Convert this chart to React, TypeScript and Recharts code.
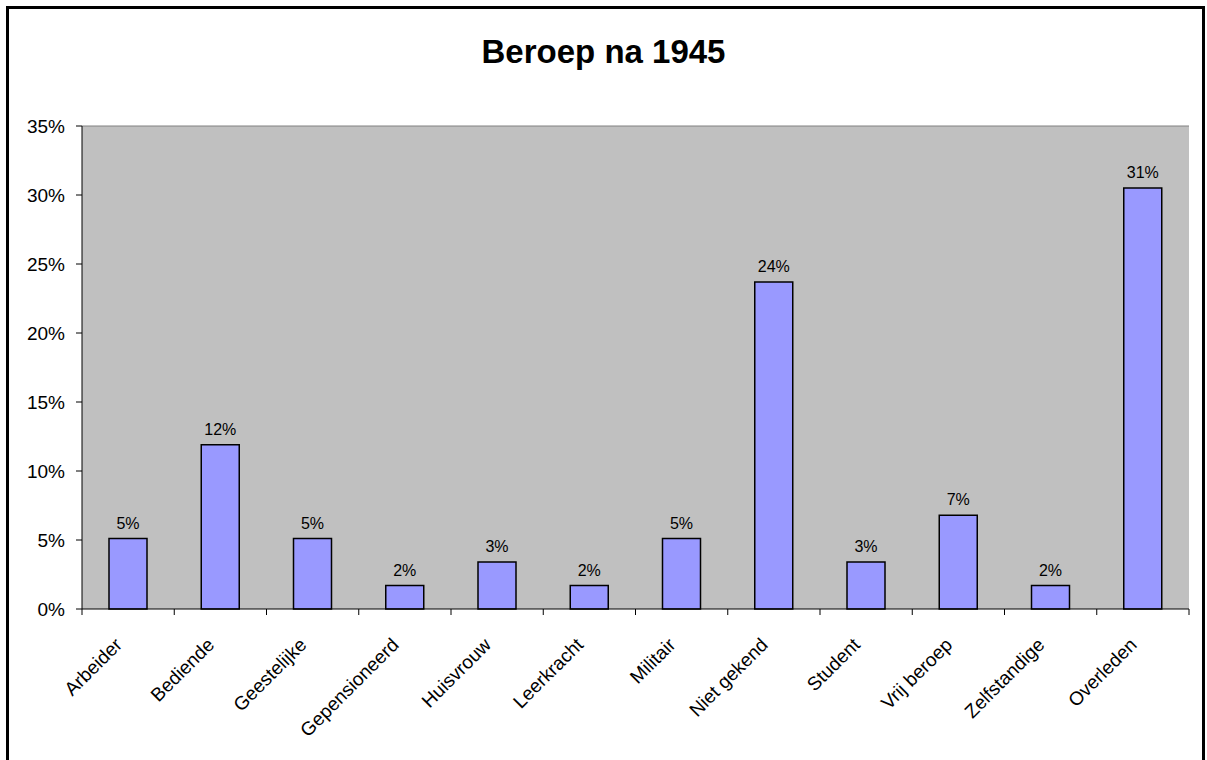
import { BarChart, Bar, XAxis, YAxis, CartesianGrid, LabelList, ReferenceLine } from 'recharts';

const categories = [
  'Arbeider',
  'Bediende',
  'Geestelijke',
  'Gepensioneerd',
  'Huisvrouw',
  'Leerkracht',
  'Militair',
  'Niet gekend',
  'Student',
  'Vrij beroep',
  'Zelfstandige',
  'Overleden',
];
const shares = [5.1, 11.9, 5.1, 1.7, 3.4, 1.7, 5.1, 23.7, 3.4, 6.8, 1.7, 30.5];
const yTicks = [0, 5, 10, 15, 20, 25, 30, 35];

const data = categories.map((name, i) => ({ name, value: shares[i] }));

const FONT = '"Liberation Sans", Arial, sans-serif';

// category label rotated 45°, plus the Excel-style tick marks between categories
function CategoryTick({ x, y, payload, index, width, visibleTicksCount }: any) {
  const band = (width || 1107) / (visibleTicksCount || categories.length);
  const tx = x - 5;
  const ty = y + 37;
  const isLast = index === (visibleTicksCount || categories.length) - 1;
  return (
    <g>
      <line x1={x - band / 2} x2={x - band / 2} y1={y} y2={y + 6} stroke="#000" />
      {isLast && <line x1={x + band / 2} x2={x + band / 2} y1={y} y2={y + 6} stroke="#000" />}
      <text
        x={tx}
        y={ty}
        transform={`rotate(-45 ${tx} ${ty})`}
        textAnchor="end"
        fontSize={19}
        fontFamily={FONT}
        fill="#000"
      >
        {payload.value}
      </text>
    </g>
  );
}

export default function App() {
  return (
    <div
      style={{
        position: 'absolute',
        left: 0,
        top: 0,
        width: 1207,
        height: 760,
        overflow: 'hidden',
        background: '#fff',
        fontFamily: FONT,
      }}
    >
      <div
        style={{
          position: 'absolute',
          left: 6,
          top: 6,
          width: 1193,
          height: 760,
          border: '3px solid #000',
        }}
      />
      <div
        style={{
          position: 'absolute',
          left: 0,
          width: 1207,
          top: 33,
          textAlign: 'center',
          fontSize: 33,
          fontWeight: 'bold',
          color: '#000',
        }}
      >
        Beroep na 1945
      </div>
      <div style={{ position: 'absolute', left: 0, top: 0 }}>
        <BarChart
          width={1207}
          height={760}
          data={data}
          margin={{ top: 126, right: 18, left: 0, bottom: 0 }}
          barSize={38}
        >
          <CartesianGrid fill="#C0C0C0" horizontal={false} vertical={false} />
          <ReferenceLine y={35} stroke="#808080" />
          <XAxis
            dataKey="name"
            height={151}
            stroke="#000"
            tickLine={false}
            tickSize={0}
            tickMargin={0}
            interval={0}
            tick={<CategoryTick />}
          />
          <YAxis
            domain={[0, 35]}
            ticks={yTicks}
            width={82}
            tickSize={6}
            tickMargin={11}
            stroke="#000"
            tick={{ fill: '#000', fontSize: 19, fontFamily: FONT }}
            tickFormatter={(v: number) => `${v}%`}
          />
          <Bar dataKey="value" fill="#9999FF" stroke="#000" strokeWidth={1.5} isAnimationActive={false}>
            <LabelList
              dataKey="value"
              position="top"
              offset={10}
              fontSize={16}
              fontFamily={FONT}
              fill="#000"
              formatter={(v: any) => `${Math.round(Number(v))}%`}
            />
          </Bar>
        </BarChart>
      </div>
    </div>
  );
}
